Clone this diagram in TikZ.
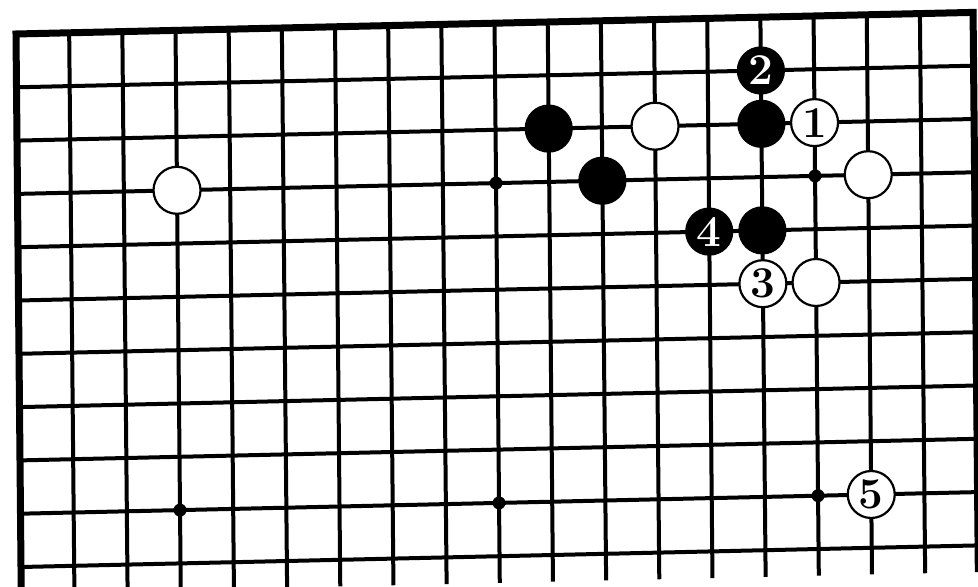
\documentclass[tikz,border=0pt]{standalone}
\begin{document}
\begin{tikzpicture}[x=0.5pt,y=-0.5pt,
  gridline/.style={line width=2pt},
  edgeline/.style={line width=3.5pt, line join=miter},
  stonelabel/.style={font=\fontsize{22}{22}\selectfont\bfseries},
  bstone/.style={circle, fill=black, draw=black, line width=0.6pt, minimum size=23.5pt, inner sep=0pt, text=white, stonelabel},
  wstone/.style={circle, fill=white, draw=black, line width=1.1pt, minimum size=23.5pt, inner sep=0pt, text=black, stonelabel},
  starpt/.style={circle, fill=black, minimum size=6.5pt, inner sep=0pt}]
\useasboundingbox (0,0) rectangle (978,587);
\fill[white] (0,0) rectangle (978,587);
\clip (0,0) rectangle (978,587);
\begin{scope}[shift={(8pt,-17pt)}, x={(26.585pt,0.6pt)}, y={(0.25pt,-26.65pt)}]
  % grid
  \foreach \r in {1,...,10} \draw[gridline] (0,\r) -- (18,\r);
  \foreach \c in {1,...,17} \draw[gridline] (\c,0) -- (\c,10.5);
  \draw[edgeline] (0,10.8) -- (0,0) -- (18,0) -- (18,10.5);
  % star points
  \node[starpt] (s1) at (9,3) {};
  \node[starpt] (s2) at (15,3) {};
  \node[starpt] (s3) at (3,9) {};
  \node[starpt] (s4) at (9,9) {};
  \node[starpt] (s5) at (15,9) {};
  % stones
  \node[wstone] (w33) at (3,3) {};
  \node[bstone] (b102) at (10,2) {};
  \node[wstone] (w122) at (12,2) {};
  \node[bstone] (b113) at (11,3) {};
  \node[bstone] (m2) at (14,1) {2};
  \node[bstone] (b142) at (14,2) {};
  \node[wstone] (m1) at (15,2) {1};
  \node[wstone] (w163) at (16,3) {};
  \node[bstone] (m4) at (13,4) {4};
  \node[bstone] (b144) at (14,4) {};
  \node[wstone] (m3) at (14,5) {3};
  \node[wstone] (w155) at (15,5) {};
  \node[wstone] (m5) at (16,9) {5};
\end{scope}
\end{tikzpicture}
\end{document}
